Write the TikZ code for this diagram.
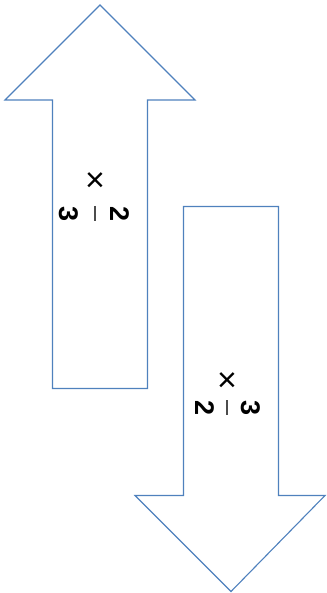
\documentclass[tikz,border=0pt]{standalone}
\usepackage{fontspec}
\setmainfont{Liberation Sans}
\definecolor{arrowblue}{RGB}{79,129,189}
\begin{document}
\begin{tikzpicture}[x=1pt,y=-1pt,
  blockarrow/.style={draw=arrowblue,line width=1.1pt,fill=white,line join=miter},
  digit/.style={inner sep=0pt,rotate=-90,font=\bfseries\fontsize{27}{27}\selectfont},
  timesmark/.style={inner sep=0pt,font=\fontsize{34}{34}\selectfont},
  fracbar/.style={draw=gray!60!black,line width=1.6pt}]
\useasboundingbox (0,0) rectangle (326,593);
% upward block arrow
\draw[blockarrow] (100,5) -- (195,100) -- (147.5,100) -- (147.5,388.5)
  -- (52.5,388.5) -- (52.5,100) -- (5,100) -- cycle;
% downward block arrow
\draw[blockarrow] (231,206.5) -- (278.5,206.5) -- (278.5,495.5) -- (325,495.5)
  -- (231,591.5) -- (135,495.5) -- (183.5,495.5) -- (183.5,206.5) -- cycle;
% factor 2/3 on the upward arrow
\node[timesmark] (t1) at (95,182) {×};
\draw[fracbar] (95,206) -- (95,221);
\node[digit] (d1n) at (120,214) {2};
\node[digit] (d1d) at (68.5,214) {3};
% factor 3/2 on the downward arrow
\node[timesmark] (t2) at (227,382) {×};
\draw[fracbar] (227,400) -- (227,415);
\node[digit] (d2n) at (251,408) {3};
\node[digit] (d2d) at (204.5,408) {2};
\end{tikzpicture}
\end{document}
